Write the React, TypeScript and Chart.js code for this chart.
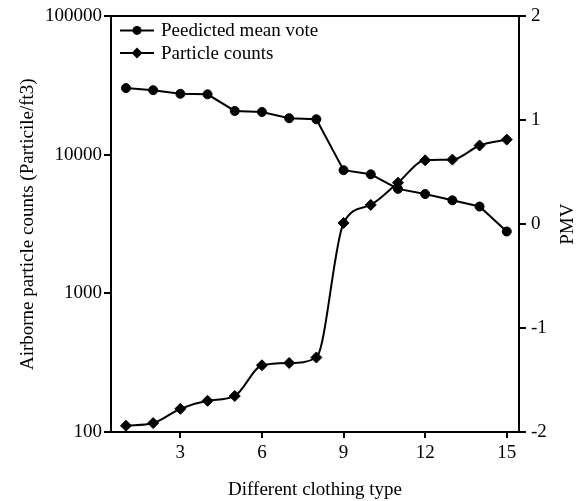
import React, { useEffect, useRef } from 'react';
import { Chart, registerables } from 'chart.js';

Chart.register(...registerables);

// ---- data ----
const clothingTypes = [1, 2, 3, 4, 5, 6, 7, 8, 9, 10, 11, 12, 13, 14, 15];
const pmvValues = [1.31, 1.29, 1.255, 1.25, 1.09, 1.08, 1.02, 1.01, 0.52, 0.48, 0.34, 0.29, 0.23, 0.17, -0.07];
const particleCounts = [111, 116, 147, 168, 182, 303, 315, 345, 3230, 4360, 6300, 9150, 9250, 11700, 12900];
const seriesNames = ['Peedicted mean vote', 'Particle counts'];
const xTicks = [3, 6, 9, 12, 15];
const leftTicks = [100, 1000, 10000, 100000];
const rightTicks = [-2, -1, 0, 1, 2];
const xTitle = 'Different clothing type';
const leftTitle = 'Airborne particle counts (Particile/ft3)';
const rightTitle = 'PMV';

const FAMILY = '"Liberation Serif", "Times New Roman", serif';
const FS = 19;
const FONT = { family: FAMILY, size: FS };
const BLACK = '#000';

const legendPlugin = {
  id: 'insideLegend',
  afterDraw(chart: any) {
    const { ctx, chartArea } = chart;
    ctx.save();
    const lx = chartArea.left + 9;
    const rows = [chartArea.top + 14, chartArea.top + 36.5];
    chart.data.datasets.forEach((ds: any, i: number) => {
      const y = rows[i];
      ctx.strokeStyle = BLACK;
      ctx.lineWidth = 2;
      ctx.beginPath();
      ctx.moveTo(lx, y);
      ctx.lineTo(lx + 34, y);
      ctx.stroke();
      const mx = lx + 17;
      ctx.fillStyle = BLACK;
      ctx.beginPath();
      if (ds.pointStyle === 'rectRot') {
        const r = 5.5;
        ctx.moveTo(mx - r, y);
        ctx.lineTo(mx, y - r);
        ctx.lineTo(mx + r, y);
        ctx.lineTo(mx, y + r);
        ctx.closePath();
      } else {
        ctx.arc(mx, y, 4.5, 0, Math.PI * 2);
      }
      ctx.fill();
      ctx.font = `${FS}px ${FAMILY}`;
      ctx.textAlign = 'left';
      ctx.textBaseline = 'middle';
      ctx.fillText(ds.label, lx + 41, y + 1);
    });
    // right axis title, reading bottom to top
    const ry = (chartArea.top + chartArea.bottom) / 2;
    ctx.translate(chart.width - 11, ry);
    ctx.rotate(-Math.PI / 2);
    ctx.textAlign = 'center';
    ctx.textBaseline = 'middle';
    ctx.font = `${FS}px ${FAMILY}`;
    ctx.fillStyle = BLACK;
    ctx.fillText(rightTitle, 0, 0);
    ctx.restore();
  },
};

export default function App() {
  const ref = useRef<HTMLCanvasElement | null>(null);
  useEffect(() => {
    if (!ref.current) return;
    const axisGrid = {
      display: true,
      drawOnChartArea: false,
      drawTicks: true,
      tickLength: 7,
      color: BLACK,
      lineWidth: 2,
    };
    const border = { display: true, color: BLACK, width: 2 };
    const chart = new Chart(ref.current, {
      type: 'line',
      data: {
        datasets: [
          {
            label: seriesNames[0],
            data: clothingTypes.map((x, i) => ({ x, y: pmvValues[i] })),
            yAxisID: 'y1',
            borderColor: BLACK,
            backgroundColor: BLACK,
            borderWidth: 2,
            pointStyle: 'circle',
            pointRadius: 4.5,
            pointBorderWidth: 1,
            tension: 0,
          },
          {
            label: seriesNames[1],
            data: clothingTypes.map((x, i) => ({ x, y: particleCounts[i] })),
            yAxisID: 'y',
            borderColor: BLACK,
            backgroundColor: BLACK,
            borderWidth: 2,
            pointStyle: 'rectRot',
            pointRadius: 5.5,
            pointBorderWidth: 1,
            cubicInterpolationMode: 'monotone',
          },
        ],
      },
      options: {
        responsive: false,
        animation: false,
        events: [],
        layout: { padding: 0 },
        plugins: { legend: { display: false }, tooltip: { enabled: false } },
        scales: {
          x: {
            type: 'linear',
            position: 'bottom',
            min: 0.45,
            max: 15.45,
            afterBuildTicks: (s: any) => {
              s.ticks = xTicks.map((v) => ({ value: v }));
            },
            afterFit: (s: any) => {
              s.height = 69;
            },
            grid: { ...axisGrid, tickLength: 6 },
            border,
            ticks: { color: BLACK, font: FONT, padding: 4, maxRotation: 0, autoSkip: false },
            title: { display: true, text: xTitle, color: BLACK, font: FONT, padding: { top: 0, bottom: 0 } },
          },
          x2: {
            type: 'linear',
            position: 'top',
            min: 0.45,
            max: 15.45,
            afterFit: (s: any) => {
              s.height = 14;
            },
            grid: { display: true, drawOnChartArea: false, drawTicks: false, color: BLACK },
            border,
            ticks: { display: false },
          },
          y: {
            type: 'logarithmic',
            position: 'left',
            min: 100,
            max: 100000,
            afterBuildTicks: (s: any) => {
              s.ticks = leftTicks.map((v) => ({ value: v }));
            },
            afterFit: (s: any) => {
              s.width = 111;
            },
            grid: axisGrid,
            border,
            ticks: {
              color: BLACK,
              font: FONT,
              padding: 2,
              autoSkip: false,
              callback: (v: any) => String(v),
            },
            title: { display: true, text: leftTitle, color: BLACK, font: FONT, padding: { top: 17, bottom: 0 } },
          },
          y1: {
            type: 'linear',
            position: 'right',
            min: -2,
            max: 2,
            afterBuildTicks: (s: any) => {
              s.ticks = rightTicks.map((v) => ({ value: v }));
            },
            afterFit: (s: any) => {
              s.width = 60;
            },
            grid: axisGrid,
            border,
            ticks: { color: BLACK, font: FONT, padding: 5, autoSkip: false, callback: (v: any) => String(v) },
          },
        },
      },
      plugins: [legendPlugin],
    } as any);
    return () => chart.destroy();
  }, []);
  return (
    <div style={{ position: 'fixed', left: 0, top: 0, width: 579, height: 501, background: '#fff' }}>
      <canvas ref={ref} width={579} height={501} style={{ display: 'block' }} />
    </div>
  );
}
